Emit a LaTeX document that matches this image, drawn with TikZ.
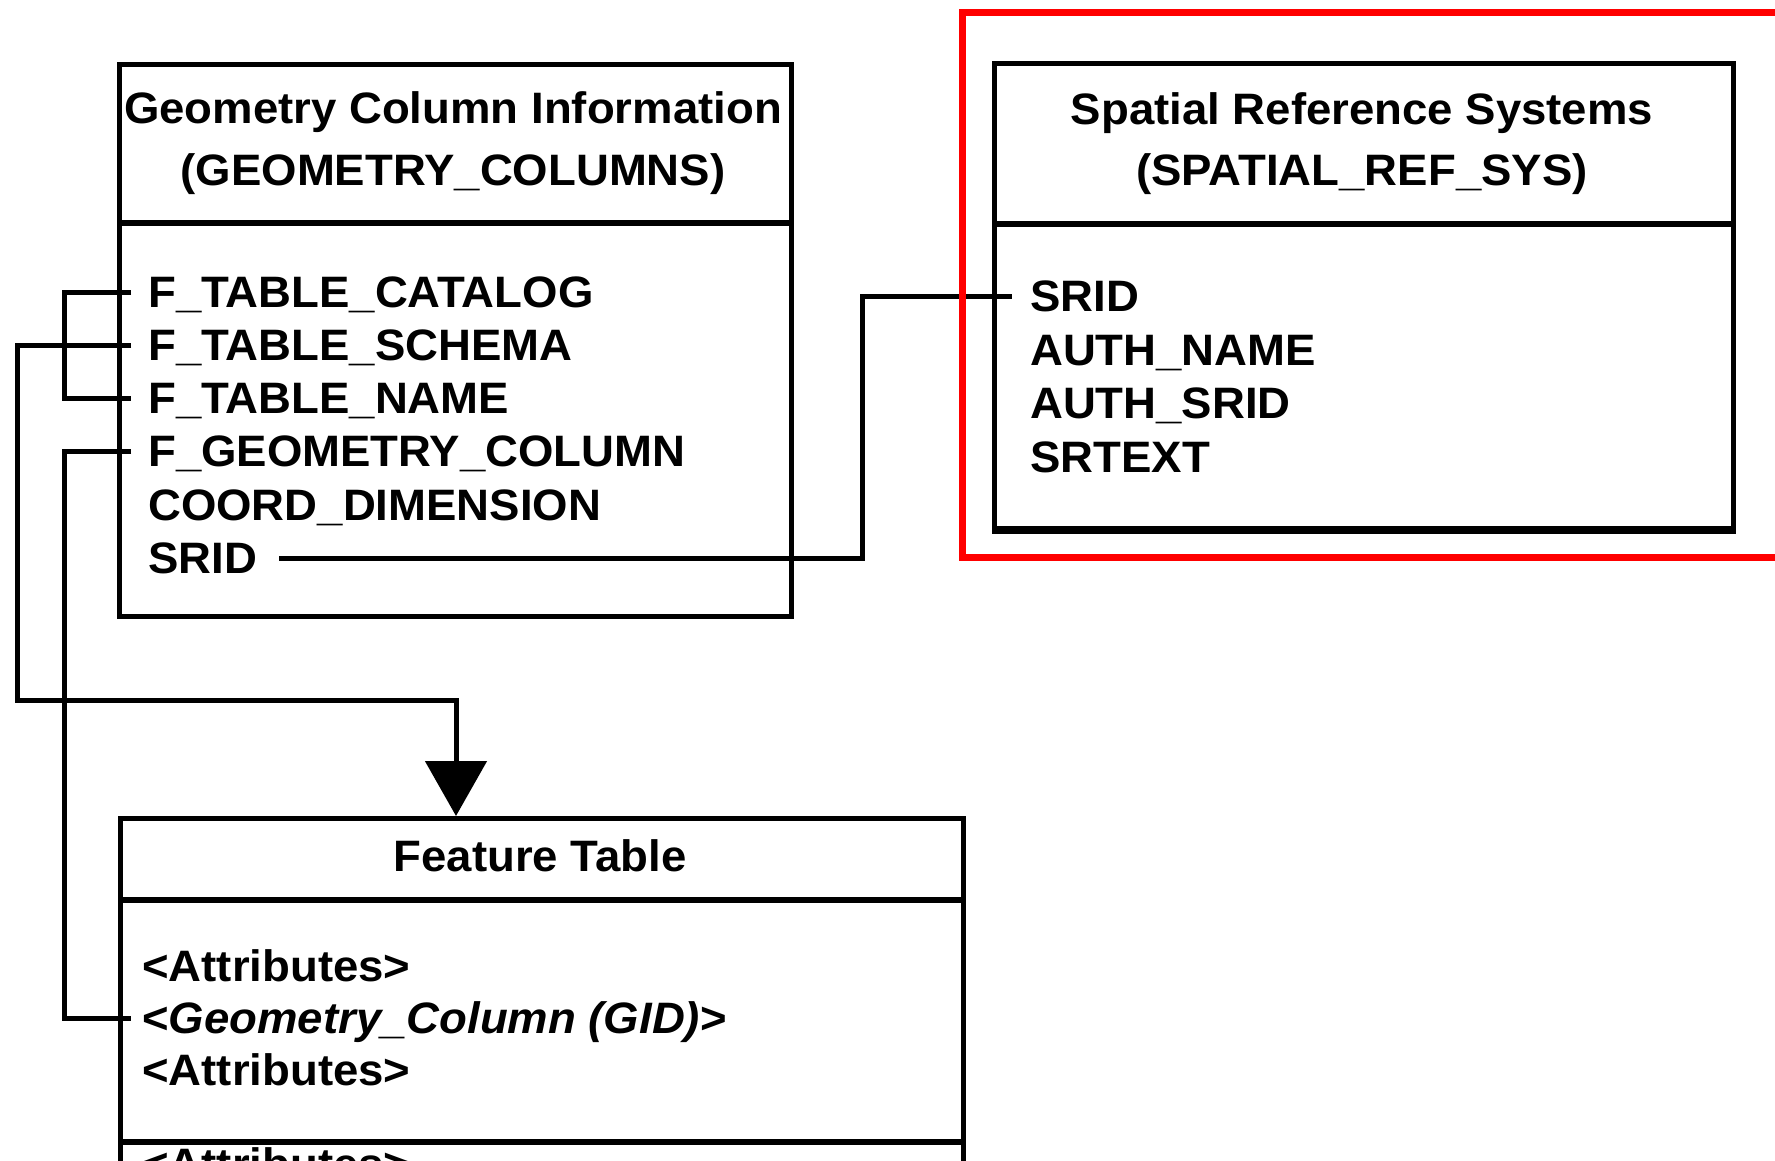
\documentclass[tikz,border=0pt]{standalone}
\usepackage{fontspec}
\setmainfont{Liberation Sans}[FakeStretch=1.035]
\usetikzlibrary{arrows.meta}
\begin{document}
\begin{tikzpicture}[x=1pt,y=-1pt,
  tablebox/.style={draw=black, line width=5pt, inner sep=0pt, anchor=north west},
  rule/.style={line width=6pt},
  field/.style={font=\fontsize{44}{50}\selectfont\bfseries, anchor=west, inner sep=0pt,
                text height=31.5pt, text depth=0pt},
  heading/.style={field, anchor=center},
  conn/.style={line width=5pt},
  highlight/.style={draw=red, line width=7pt}
]
% canvas
\useasboundingbox (0,0) rectangle (1775,1161);
\clip (0,0) rectangle (1775,1161);
\fill[white] (0,0) rectangle (1775,1161);

% ---- Geometry column information table
\node[tablebox, minimum width=672pt, minimum height=552pt] (gci) at (117,62) {};
\draw[rule] (117,223) -- (789,223);
\node[heading] (gcit1) at (453,108) {Geometry Column Information};
\node[heading] (gcit2) at (453,170) {(GEOMETRY\_COLUMNS)};
\node[field] (gcat)  at (148,292) {F\_TABLE\_CATALOG};
\node[field] (gsch)  at (148,345) {F\_TABLE\_SCHEMA};
\node[field] (gname) at (148,398) {F\_TABLE\_NAME};
\node[field] (ggeom) at (148,451) {F\_GEOMETRY\_COLUMN};
\node[field] (gdim)  at (148,505) {COORD\_DIMENSION};
\node[field] (gsrid) at (148,558) {SRID};

% ---- Spatial reference systems table
\node[tablebox, minimum width=739pt, minimum height=468pt] (srs) at (992,61) {};
\draw[rule] (992,224) -- (1731,224);
\draw[rule] (992,529) -- (1731,529);
\node[heading] (srst1) at (1362,109) {Spatial Reference Systems};
\node[heading] (srst2) at (1362,170) {(SPATIAL\_REF\_SYS)};
\node[field] (ssrid)  at (1030,296) {SRID};
\node[field] (sauthn) at (1030,350) {AUTH\_NAME};
\node[field] (sauths) at (1030,403) {AUTH\_SRID};
\node[field] (stext)  at (1030,457) {SRTEXT};

% ---- Feature table (continues below the page edge)
\node[tablebox, minimum width=843pt, minimum height=440pt] (ftab) at (118,816) {};
\draw[rule] (118,900) -- (961,900);
\draw[rule] (118,1142) -- (961,1142);
\node[heading] (ftt) at (540,856) {Feature Table};
\node[field] (fatt1) at (142,966) {<Attributes>};
\node[field] (fgeom) at (142,1018) {<\textit{Geometry\_Column (GID)}>};
\node[field] (fatt2) at (142,1070) {<Attributes>};
\node[field] (fatt3) at (142,1164) {<Attributes>};

% ---- connector bend points
\coordinate (jog)  at (862,420);
\coordinate (brk)  at (64,345);
\coordinate (sl)   at (17,520);
\coordinate (drop) at (456,700);
\coordinate (glow) at (64,700);

% SRID -> SRID
\draw[conn] ([xshift=22pt]gsrid.east) -| (jog) |- ([xshift=-18pt]ssrid.west);
% catalog / name bracket
\draw[conn] ([xshift=-17pt]gcat.west) -| (brk) |- ([xshift=-17pt]gname.west);
% schema -> feature table
\draw[conn, -{Triangle[width=61pt,length=55pt]}]
  ([xshift=-17pt]gsch.west) -| (sl) |- (drop) -- (drop |- ftab.north);
% geometry column -> feature geometry column
\draw[conn] ([xshift=-17pt]ggeom.west) -| (glow) |- ([xshift=-11pt]fgeom.west);

% ---- highlight frame
\draw[highlight] (962,13) rectangle (1800,557);
\end{tikzpicture}
\end{document}
